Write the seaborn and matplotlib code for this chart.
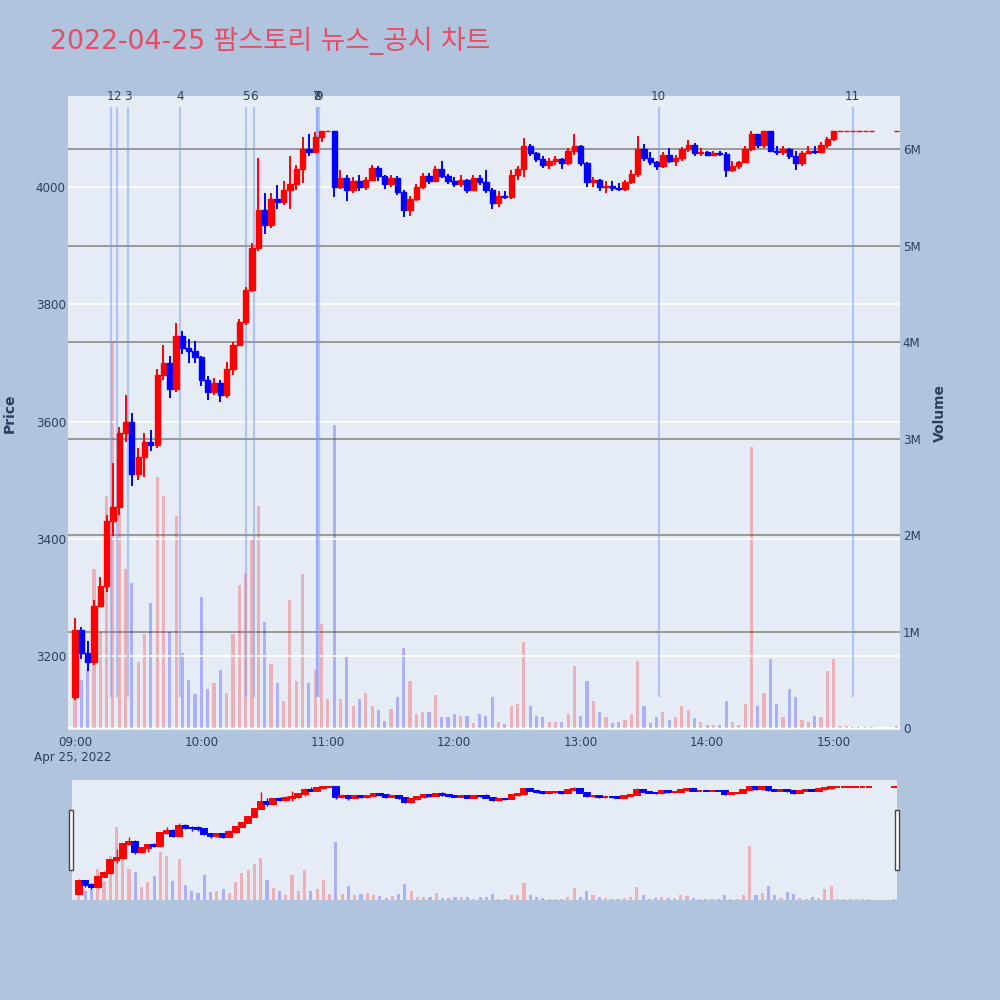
import numpy as np
import pandas as pd
import seaborn as sns
import matplotlib.pyplot as plt
import matplotlib.dates as mdates
from matplotlib.ticker import FuncFormatter
from matplotlib.patches import Rectangle

sns.set_theme(style='white')
plt.rcParams['font.family'] = ['DejaVu Sans', 'Noto Sans CJK KR']

TXT = '#2a3f5f'
BG = '#B0C4DE'
PLOT_BG = '#E5ECF6'

# 3분봉 시가/고가/저가/종가 (09:00 ~ 15:18), 마지막 값은 15:30 종가
opens = [3130, 3245, 3205, 3190, 3285, 3320, 3430, 3455, 3580, 3600,
         3510, 3540, 3565, 3560, 3680, 3700, 3655, 3745, 3725, 3720,
         3710, 3670, 3650, 3665, 3645, 3690, 3730, 3770, 3825, 3895,
         3960, 3935, 3980, 3975, 3995, 4005, 4030, 4065, 4060, 4085,
         4095, 4095, 4000, 4015, 3995, 4010, 4000, 4012, 4032, 4018,
         4005, 4015, 3992, 3960, 3980, 4000, 4018, 4010, 4030, 4018,
         4010, 4005, 4012, 3995, 4015, 4008, 3995, 3972, 3985, 3982,
         4020, 4030, 4070, 4058, 4048, 4038, 4045, 4048, 4040, 4062,
         4070, 4040, 4008, 4012, 4000, 4002, 3998, 3996, 4008, 4022,
         4065, 4050, 4042, 4035, 4055, 4045, 4050, 4065, 4072, 4058,
         4060, 4055, 4058, 4056, 4028, 4035, 4042, 4065, 4090, 4072,
         4095, 4062, 4060, 4064, 4052, 4040, 4058, 4062, 4060, 4072,
         4082, 4095, 4095, 4095, 4095, 4095, 4095, 4095]
highs = [3265, 3250, 3225, 3295, 3335, 3440, 3530, 3590, 3645, 3615,
         3555, 3580, 3585, 3690, 3730, 3712, 3768, 3755, 3740, 3737,
         3712, 3678, 3675, 3671, 3702, 3735, 3775, 3830, 3905, 4050,
         3990, 3990, 4003, 4010, 4052, 4038, 4085, 4090, 4094, 4095,
         4095, 4095, 4028, 4020, 4017, 4021, 4017, 4038, 4035, 4020,
         4021, 4018, 3995, 3985, 4005, 4024, 4024, 4035, 4045, 4022,
         4017, 4021, 4014, 4021, 4020, 4028, 3998, 3993, 3993, 4028,
         4035, 4083, 4073, 4060, 4052, 4050, 4052, 4050, 4066, 4090,
         4072, 4042, 4017, 4014, 4010, 4010, 4007, 4012, 4028, 4087,
         4073, 4059, 4045, 4059, 4066, 4055, 4068, 4080, 4075, 4066,
         4062, 4062, 4062, 4060, 4045, 4045, 4070, 4095, 4090, 4095,
         4095, 4069, 4069, 4066, 4062, 4062, 4069, 4069, 4076, 4085,
         4095, 4095, 4095, 4095, 4095, 4095, 4095, 4095]
lows = [3125, 3195, 3175, 3185, 3285, 3310, 3405, 3440, 3565, 3490,
        3500, 3505, 3550, 3555, 3670, 3640, 3650, 3715, 3700, 3700,
        3660, 3636, 3645, 3633, 3640, 3680, 3728, 3765, 3820, 3890,
        3920, 3930, 3962, 3970, 3962, 3995, 4007, 4052, 4060, 4076,
        4095, 3983, 3997, 3976, 3990, 3993, 3995, 4010, 4010, 3997,
        4000, 3986, 3948, 3950, 3976, 3997, 4005, 4008, 4015, 4005,
        4000, 4000, 3990, 3993, 4003, 3990, 3962, 3965, 3979, 3980,
        4012, 4017, 4052, 4042, 4032, 4031, 4038, 4031, 4038, 4055,
        4035, 4000, 4000, 3993, 3990, 3993, 3993, 3993, 4005, 4017,
        4045, 4038, 4028, 4033, 4040, 4035, 4045, 4060, 4052, 4052,
        4052, 4052, 4052, 4017, 4026, 4030, 4040, 4062, 4066, 4066,
        4059, 4055, 4055, 4048, 4028, 4036, 4056, 4056, 4058, 4066,
        4078, 4095, 4095, 4095, 4095, 4095, 4095, 4095]
closes = [3245, 3205, 3190, 3285, 3320, 3430, 3455, 3580, 3600, 3510,
          3540, 3565, 3560, 3680, 3700, 3655, 3745, 3725, 3720, 3710,
          3670, 3650, 3665, 3645, 3690, 3730, 3770, 3825, 3895, 3960,
          3935, 3980, 3975, 3995, 4005, 4030, 4065, 4060, 4085, 4095,
          4095, 4000, 4015, 3995, 4010, 4000, 4012, 4032, 4018, 4005,
          4015, 3992, 3960, 3980, 4000, 4018, 4010, 4030, 4018, 4010,
          4005, 4012, 3995, 4015, 4008, 3995, 3972, 3985, 3982, 4020,
          4030, 4070, 4058, 4048, 4038, 4045, 4048, 4040, 4062, 4070,
          4040, 4008, 4012, 4000, 4002, 3998, 3996, 4008, 4022, 4065,
          4050, 4042, 4035, 4055, 4045, 4050, 4065, 4072, 4058, 4060,
          4055, 4058, 4056, 4028, 4035, 4042, 4065, 4090, 4072, 4095,
          4062, 4060, 4064, 4052, 4040, 4058, 4062, 4060, 4072, 4082,
          4095, 4095, 4095, 4095, 4095, 4095, 4095, 4095]
# 거래량 (백만주)
volumes_m = [0.60, 0.50, 0.60, 1.65, 1.00, 2.40, 4.00, 2.25, 1.65, 1.50,
             0.68, 0.97, 1.30, 2.60, 2.40, 1.00, 2.20, 0.78, 0.50, 0.35,
             1.36, 0.40, 0.47, 0.60, 0.36, 0.97, 1.48, 1.60, 1.95, 2.30,
             1.10, 0.66, 0.47, 0.28, 1.33, 0.49, 1.60, 0.47, 0.60, 1.08,
             0.30, 3.14, 0.30, 0.74, 0.23, 0.30, 0.36, 0.23, 0.19, 0.07,
             0.20, 0.32, 0.83, 0.49, 0.15, 0.17, 0.17, 0.34, 0.11, 0.11,
             0.15, 0.13, 0.13, 0.05, 0.15, 0.13, 0.32, 0.06, 0.04, 0.23,
             0.25, 0.89, 0.23, 0.13, 0.11, 0.06, 0.06, 0.06, 0.15, 0.64,
             0.13, 0.49, 0.28, 0.17, 0.11, 0.05, 0.06, 0.08, 0.15, 0.70,
             0.23, 0.05, 0.11, 0.17, 0.08, 0.11, 0.23, 0.19, 0.10, 0.06,
             0.03, 0.03, 0.03, 0.28, 0.06, 0.03, 0.25, 2.91, 0.23, 0.36,
             0.72, 0.25, 0.11, 0.40, 0.32, 0.08, 0.06, 0.13, 0.11, 0.59,
             0.72, 0.02, 0.02, 0.01, 0.01, 0.01, 0.01, 0.02]

news_times = ['09:17', '09:20', '09:25', '09:50', '10:21', '10:25',
              '10:55', '10:55', '10:56', '13:37', '15:09']
news_labels = ['1', '2', '3', '4', '5', '6', '7', '8', '9', '10', '11']

title = '2022-04-25 팜스토리 뉴스_공시 차트'

times = list(pd.date_range('2022-04-25 09:00', '2022-04-25 15:18', freq='3min'))
times.append(pd.Timestamp('2022-04-25 15:30'))
df = pd.DataFrame({'time': times, 'open': opens, 'high': highs, 'low': lows,
                   'close': closes, 'volume': np.array(volumes_m) * 1e6})
df['up'] = df['close'] >= df['open']
df['color'] = np.where(df['up'], '#FF0000', '#0000FF')
df['vcolor'] = [(1, 0, 0, 0.25) if u else (0, 0, 1, 0.25) for u in df['up']]

MIN = 1 / 1440
xlim = (pd.Timestamp('2022-04-25 08:56:42'), pd.Timestamp('2022-04-25 15:31:30'))
price_lim = (3074, 4155)
vol_lim = (-0.02e6, 6.55e6)


def draw(ax_p, ax_v, wick_lw, edge_lw, body_w, vol_w):
    ax_v.bar(df['time'], df['volume'], width=vol_w * MIN, color=df['vcolor'], linewidth=0)
    ax_p.vlines(df['time'], df['low'], df['high'], colors=df['color'], lw=wick_lw, zorder=3)
    ax_p.bar(df['time'], (df['close'] - df['open']).abs(),
             bottom=df[['open', 'close']].min(axis=1), width=body_w * MIN,
             color=df['color'], edgecolor=df['color'], linewidth=edge_lw, zorder=4)
    for a in (ax_p, ax_v):
        a.set_xlim(*xlim)
        for s in a.spines.values():
            s.set_visible(False)
    ax_p.set_ylim(*price_lim)
    ax_v.set_ylim(*vol_lim)


fig = plt.figure(figsize=(10, 10), dpi=100, facecolor=BG)

# 메인 차트
ax_v = fig.add_axes([0.068, 0.270, 0.832, 0.634], facecolor=PLOT_BG)
ax = ax_v.twinx()
for lv in range(1, 7):
    ax_v.axhline(lv * 1e6, color='#8a8a8a', lw=1.2, zorder=0.5)
ax_v.axhline(0, color='white', lw=1.5, zorder=0.5)
for p in [3200, 3400, 3600, 3800, 4000]:
    ax.axhline(p, color='white', lw=1.2, zorder=0.6)

news_dt = mdates.date2num([pd.Timestamp('2022-04-25 ' + t) for t in news_times])
ax.vlines(news_dt, 0.052, 0.983, transform=ax.get_xaxis_transform(),
          colors='#7f9cf5', alpha=0.5, lw=1.6, zorder=2)
for x, lab in zip(news_dt, news_labels):
    ax.text(x, 1.0, lab, transform=ax.get_xaxis_transform(), ha='center', va='center',
            fontsize=8.6, color=TXT)

draw(ax, ax_v, wick_lw=1.4, edge_lw=1.0, body_w=2.5, vol_w=1.5)

ax.yaxis.tick_left()
ax_v.yaxis.tick_right()
ax.set_yticks([3200, 3400, 3600, 3800, 4000])
ax_v.set_yticks([0, 1e6, 2e6, 3e6, 4e6, 5e6, 6e6])
ax_v.yaxis.set_major_formatter(FuncFormatter(lambda v, _: '0' if v == 0 else f'{v / 1e6:.0f}M'))
ax.xaxis.set_major_locator(mdates.HourLocator())
ax.xaxis.set_major_formatter(mdates.DateFormatter('%H:%M'))
ax.tick_params(axis='y', length=0, pad=1.5, labelsize=8.6, labelcolor=TXT)
ax_v.tick_params(axis='y', length=0, pad=2, labelsize=8.6, labelcolor=TXT)
ax_v.tick_params(axis='x', length=0, pad=4, labelsize=8.6, labelcolor=TXT)
ax.tick_params(axis='x', length=0)
ax_v.xaxis.set_major_locator(mdates.HourLocator())
ax_v.xaxis.set_major_formatter(mdates.DateFormatter('%H:%M'))
ax.grid(False)
ax_v.grid(False)

fig.text(0.010, 1 - 0.413, 'Price', rotation=90, ha='center', va='center',
         fontsize=10, fontweight='bold', color=TXT)
fig.text(0.940, 1 - 0.413, 'Volume', rotation=90, ha='center', va='center',
         fontsize=10, fontweight='bold', color=TXT)
fig.text(0.073, 1 - 0.757, 'Apr 25, 2022', ha='center', va='center', fontsize=8.6, color=TXT)
fig.text(0.050, 1 - 0.041, title, ha='left', va='center', fontsize=19.3, color='#E84C64')

# 레인지 슬라이더
rs_v = fig.add_axes([0.072, 0.100, 0.825, 0.120], facecolor=PLOT_BG)
rs = rs_v.twinx()
draw(rs, rs_v, wick_lw=1.0, edge_lw=1.4, body_w=2.8, vol_w=1.5)
for a in (rs, rs_v):
    a.set_xticks([])
    a.set_yticks([])
for hx in (0.069, 0.895):
    fig.patches.append(Rectangle((hx, 1 - 0.870), 0.0035, 0.060, transform=fig.transFigure,
                                 facecolor='white', edgecolor='#444444', lw=1))

fig.savefig('out.png', dpi=100, facecolor=BG)
